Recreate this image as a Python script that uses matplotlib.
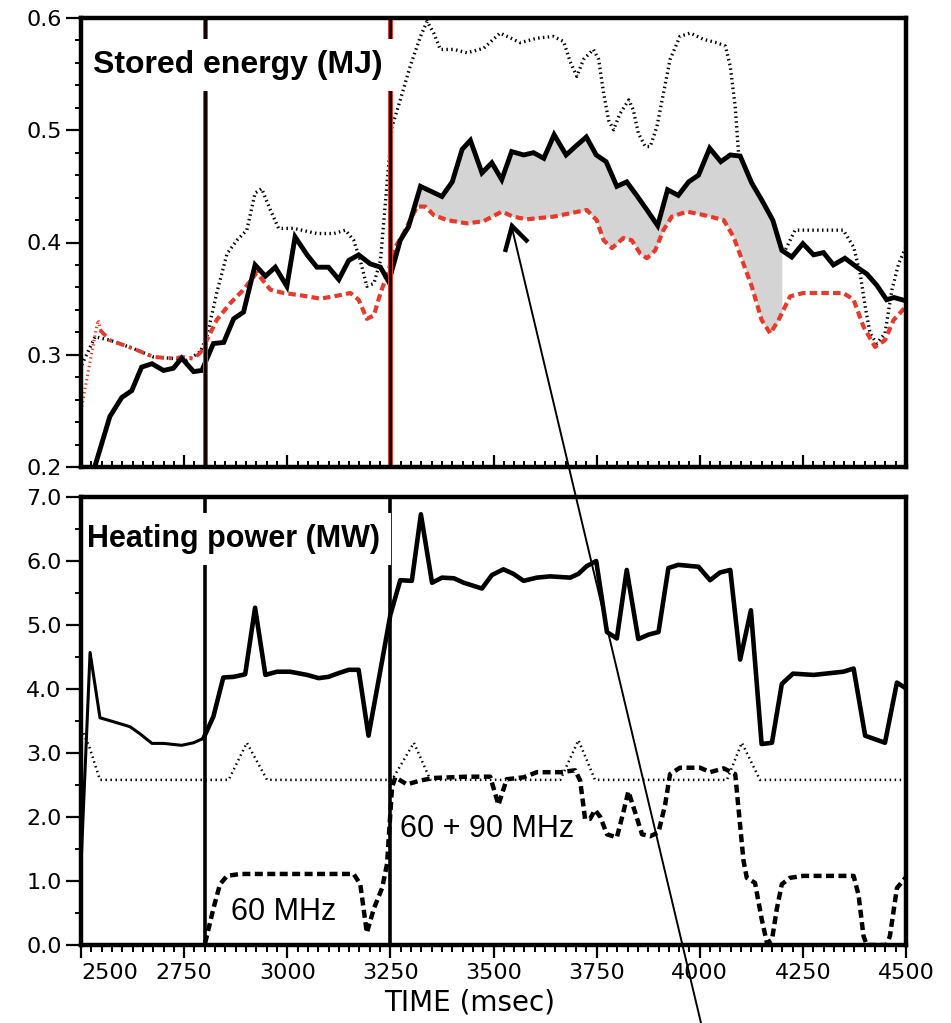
import numpy as np
import matplotlib
matplotlib.use("Agg")
import matplotlib.pyplot as plt
from matplotlib.lines import Line2D
from matplotlib.ticker import MultipleLocator, FormatStrFormatter

# ---------------- data: stored energy (MJ) ----------------
we_t = [2525, 2570, 2599, 2623, 2647, 2672, 2700, 2724, 2744, 2773, 2793, 2821, 2846, 2870, 2894,
        2922, 2947, 2971, 2999, 3019, 3048, 3072, 3100, 3125, 3149, 3173, 3201, 3226, 3246, 3274,
        3294, 3323, 3375, 3400, 3424, 3444, 3472, 3496, 3520, 3544, 3573, 3597, 3622, 3647, 3676,
        3700, 3725, 3749, 3773, 3799, 3823, 3847, 3872, 3898, 3922, 3948, 3973, 3997, 4024, 4051,
        4074, 4098, 4126, 4150, 4177, 4199, 4223, 4250, 4276, 4300, 4324, 4352, 4381, 4405, 4429,
        4453, 4471, 4500]
we = [0.19, 0.245, 0.262, 0.268, 0.289, 0.292, 0.286, 0.288, 0.297, 0.285, 0.286, 0.310, 0.311, 0.332, 0.338,
      0.380, 0.370, 0.378, 0.361, 0.405, 0.389, 0.378, 0.378, 0.367, 0.384, 0.389, 0.381, 0.378, 0.365, 0.402,
      0.414, 0.450, 0.441, 0.454, 0.483, 0.491, 0.462, 0.471, 0.456, 0.481, 0.478, 0.480, 0.475, 0.496, 0.478,
      0.486, 0.494, 0.478, 0.472, 0.450, 0.454, 0.442, 0.429, 0.415, 0.447, 0.442, 0.454, 0.460, 0.484, 0.472,
      0.478, 0.477, 0.453, 0.438, 0.420, 0.393, 0.387, 0.399, 0.389, 0.391, 0.380, 0.386, 0.378, 0.372, 0.362,
      0.349, 0.351, 0.348]

red_dot_t = [2500, 2520, 2541, 2548]
red_dot = [0.25, 0.29, 0.331, 0.322]

red_dd_t = [2546, 2570, 2627, 2676, 2724, 2745, 2773, 2790, 2801]
red_dd = [0.322, 0.313, 0.3055, 0.298, 0.2967, 0.298, 0.2965, 0.302, 0.310]

red_t = [2801, 2829, 2862, 2894, 2926, 2959, 2991, 3032, 3080, 3113, 3153, 3173, 3193, 3210, 3226,
         3242, 3262, 3282, 3298, 3315, 3335, 3355, 3387, 3436, 3476, 3520, 3548, 3581, 3645, 3726,
         3750, 3767, 3787, 3815, 3835, 3856, 3872, 3892, 3912, 3932, 3969, 4009, 4058, 4082, 4106,
         4126, 4150, 4171, 4191, 4219, 4251, 4300, 4348, 4373, 4397, 4425, 4449, 4470, 4500]
red = [0.310, 0.331, 0.346, 0.358, 0.373, 0.358, 0.355, 0.353, 0.350, 0.352, 0.355, 0.349, 0.332, 0.335, 0.355,
       0.371, 0.396, 0.408, 0.420, 0.432, 0.432, 0.4245, 0.420, 0.417, 0.419, 0.4275, 0.423, 0.4207, 0.423, 0.429,
       0.420, 0.402, 0.395, 0.404, 0.402, 0.390, 0.386, 0.393, 0.411, 0.423, 0.4275, 0.4245, 0.420, 0.405, 0.381,
       0.361, 0.331, 0.319, 0.331, 0.352, 0.355, 0.355, 0.355, 0.349, 0.325, 0.307, 0.313, 0.331, 0.343]

up_t = [2502, 2534, 2570, 2627, 2676, 2724, 2756, 2789, 2805, 2829, 2854, 2878, 2902, 2922, 2938,
        2959, 2979, 3015, 3072, 3113, 3141, 3161, 3177, 3193, 3210, 3226, 3242, 3254, 3274, 3298,
        3323, 3339, 3355, 3371, 3404, 3436, 3476, 3516, 3565, 3605, 3645, 3670, 3686, 3702, 3718,
        3742, 3755, 3767, 3779, 3791, 3807, 3828, 3839, 3851, 3868, 3880, 3896, 3912, 3928, 3952,
        3977, 4009, 4041, 4062, 4074, 4086, 4094, 4150, 4203, 4231, 4348, 4373, 4389, 4401, 4413,
        4429, 4449, 4466, 4482, 4500]
up = [0.291, 0.316, 0.313, 0.3055, 0.298, 0.2967, 0.295, 0.3025, 0.316, 0.355, 0.390, 0.402, 0.411, 0.444, 0.448,
      0.429, 0.4126, 0.4126, 0.408, 0.408, 0.411, 0.402, 0.384, 0.361, 0.3635, 0.384, 0.453, 0.503, 0.527, 0.557,
      0.5836, 0.597, 0.5866, 0.572, 0.572, 0.569, 0.573, 0.5866, 0.578, 0.582, 0.5836, 0.579, 0.561, 0.548, 0.563,
      0.572, 0.563, 0.533, 0.509, 0.5004, 0.515, 0.527, 0.518, 0.4974, 0.4855, 0.4855, 0.503, 0.533, 0.563, 0.5836,
      0.5866, 0.581, 0.578, 0.575, 0.557, 0.521, 0.4796, np.nan, 0.390, 0.411, 0.411, 0.396, 0.372, 0.343, 0.319,
      0.310, 0.319, 0.358, 0.381, 0.396]

# ---------------- data: heating power (MW) ----------------
pw1_t = [2501, 2522, 2546, 2578, 2619, 2643, 2672, 2700, 2744, 2773, 2797]
pw1 = [1.4, 4.57, 3.55, 3.49, 3.41, 3.30, 3.15, 3.15, 3.12, 3.16, 3.23]

pw2_t = [2797, 2821, 2845, 2870, 2898, 2922, 2947, 2975, 3007, 3048, 3076, 3100, 3121, 3149, 3173,
         3197, 3226, 3250, 3274, 3302, 3324, 3351, 3375, 3404, 3428, 3472, 3496, 3524, 3548, 3573,
         3605, 3637, 3686, 3706, 3726, 3749, 3775, 3799, 3823, 3851, 3876, 3900, 3924, 3948, 3997,
         4025, 4049, 4074, 4098, 4124, 4150, 4175, 4199, 4226, 4276, 4348, 4373, 4401, 4449, 4478,
         4500]
pw2 = [3.23, 3.57, 4.18, 4.19, 4.23, 5.27, 4.22, 4.27, 4.27, 4.22, 4.17, 4.19, 4.24, 4.30, 4.30,
       3.27, 4.30, 5.16, 5.70, 5.69, 6.73, 5.66, 5.74, 5.73, 5.66, 5.57, 5.78, 5.87, 5.80, 5.69,
       5.74, 5.76, 5.74, 5.80, 5.92, 6.00, 4.89, 4.79, 5.86, 4.78, 4.85, 4.89, 5.89, 5.94, 5.91,
       5.70, 5.82, 5.86, 4.46, 5.23, 3.14, 3.16, 4.08, 4.24, 4.22, 4.27, 4.32, 3.27, 3.16, 4.10,
       4.01]

nb_t = [2501, 2520, 2546, 2858, 2902, 2951, 3254, 3307, 3347, 3662, 3706, 3746, 4066, 4102, 4146, 4500]
nb = [3.38, 3.10, 2.58, 2.58, 3.16, 2.58, 2.58, 3.16, 2.58, 2.58, 3.20, 2.58, 2.58, 3.16, 2.58, 2.58]

rf_t = [2801, 2821, 2837, 2854, 2886, 3161, 3177, 3193, 3210, 3230, 3242, 3254, 3262, 3290, 3323,
        3355, 3396, 3436, 3492, 3512, 3532, 3573, 3605, 3662, 3698, 3710, 3722, 3734, 3746, 3759,
        3775, 3799, 3815, 3827, 3843, 3860, 3880, 3900, 3916, 3928, 3952, 4001, 4025, 4058, 4086,
        4098, 4106, 4114, 4134, 4150, 4163, 4175, 4187, 4199, 4219, 4251, 4373, 4385, 4397, 4405,
        4453, 4461, 4478, 4500]
rf = [0.03, 0.57, 0.95, 1.08, 1.11, 1.11, 0.95, 0.19, 0.57, 0.89, 1.27, 2.46, 2.62, 2.51, 2.57,
      2.61, 2.62, 2.63, 2.63, 2.19, 2.59, 2.62, 2.70, 2.70, 2.73, 2.57, 1.97, 1.97, 2.11, 2.00,
      1.73, 1.68, 2.08, 2.40, 2.08, 1.73, 1.70, 1.76, 2.19, 2.67, 2.77, 2.77, 2.70, 2.76, 2.67,
      1.86, 1.32, 1.05, 0.97, 0.41, 0.03, 0.08, 0.57, 0.95, 1.05, 1.08, 1.08, 0.78, 0.14, 0.0,
      0.0, 0.14, 0.89, 1.06]

event_times = [2800, 3250]
fill_range = (3300, 4199)
xticks = [2500, 2750, 3000, 3250, 3500, 3750, 4000, 4250, 4500]

RED = "#e8392b"
FIG_W, FIG_H = 951, 1023

fig = plt.figure(figsize=(FIG_W / 100, FIG_H / 100), dpi=100)
ax1 = fig.add_axes([81 / FIG_W, 1 - 467 / FIG_H, 825 / FIG_W, 449 / FIG_H])
ax2 = fig.add_axes([81 / FIG_W, 1 - 945 / FIG_H, 825 / FIG_W, 448 / FIG_H])

for ax in (ax1, ax2):
    ax.set_xlim(2500, 4500)
    for s in ax.spines.values():
        s.set_linewidth(3.2)
        s.set_zorder(9)
    ax.set_xticks(xticks)
    ax.xaxis.set_minor_locator(MultipleLocator(25))
    ax.tick_params(axis="y", which="major", direction="out", length=11, width=1.6, pad=3,
                   labelsize=16)
    ax.tick_params(axis="y", which="minor", direction="out", length=4, width=1.4)
    ax.tick_params(top=False, right=False)

# ---------------- top panel ----------------
ax1.set_ylim(0.2, 0.6)
ax1.yaxis.set_major_locator(MultipleLocator(0.1))
ax1.yaxis.set_minor_locator(MultipleLocator(0.02))
ax1.yaxis.set_major_formatter(FormatStrFormatter("%.1f"))
ax1.tick_params(axis="x", which="major", direction="in", length=9, width=1.6, labelbottom=False)
ax1.tick_params(axis="x", which="minor", direction="in", length=4.5, width=1.4)

grid = np.union1d(we_t, red_t)
grid = grid[(grid >= fill_range[0]) & (grid <= fill_range[1])]
grid = np.concatenate(([fill_range[0]], grid, [fill_range[1]]))
ax1.fill_between(grid, np.interp(grid, we_t, we), np.interp(grid, red_t, red),
                 color="#d4d4d4", lw=0, zorder=2)

ax1.plot(up_t, up, color="black", lw=2.4, ls=(0, (0.45, 1.0)), dash_capstyle="butt", zorder=1.5)
ax1.plot(red_dot_t, red_dot, color=RED, lw=2.2, ls=(0, (0.45, 1.0)), dash_capstyle="butt", zorder=2.5)
ax1.plot(red_dd_t, red_dd, color=RED, lw=2.8, ls=(0, (2.2, 1.2, 0.8, 1.2)), zorder=2.5)
ax1.plot(red_t, red, color=RED, lw=3.0, ls=(0, (1.8, 1.0)), zorder=2.5)
ax1.plot(we_t, we, color="black", lw=3.5, zorder=3, solid_joinstyle="miter")

for tv in event_times:
    ax1.axvline(tv, color=RED, lw=3.6, zorder=3.5)
    ax1.axvline(tv, color="black", lw=2.0, zorder=3.6)

ax1.text(2529, 0.558, "Stored energy (MJ)", family="Liberation Sans", weight="bold",
         fontsize=23, ha="left", va="center", zorder=6, clip_on=True,
         bbox=dict(facecolor="white", edgecolor="none", pad=8))

# ---------------- bottom panel ----------------
ax2.set_ylim(0, 7)
ax2.yaxis.set_major_locator(MultipleLocator(1.0))
ax2.yaxis.set_minor_locator(MultipleLocator(0.5))
ax2.yaxis.set_major_formatter(FormatStrFormatter("%.1f"))
ax2.tick_params(axis="x", which="major", direction="out", length=9, width=1.6, pad=4,
                labelsize=16)
ax2.tick_params(axis="x", which="minor", direction="out", length=5, width=1.4)
ax2.set_xticklabels([str(v) for v in xticks])
ax2.get_xticklabels()[0].set_horizontalalignment("left")

ax2.plot(nb_t, nb, color="black", lw=1.8, ls=(0, (0.6, 1.4)), dash_capstyle="butt", zorder=2)
ax2.plot(rf_t, rf, color="black", lw=3.2, ls=(0, (1.8, 1.0)), zorder=2.5)
ax2.plot(pw1_t, pw1, color="black", lw=2.2, zorder=3)
ax2.plot(pw2_t, pw2, color="black", lw=3.3, zorder=3)

for tv in event_times:
    ax2.axvline(tv, color="black", lw=2.6, zorder=3.5)

ax2.text(2515, 6.35, "Heating power (MW)", family="Liberation Sans", weight="bold",
         fontsize=22, ha="left", va="center", zorder=6, clip_on=True,
         bbox=dict(facecolor="white", edgecolor="none", pad=8))
ax2.text(2991, 0.52, "60 MHz", family="Liberation Sans", fontsize=22, ha="center",
         va="center", zorder=6)
ax2.text(3273, 1.82, "60 + 90 MHz", family="Liberation Sans", fontsize=22, ha="left",
         va="center", zorder=6)

for lab in ax1.get_yticklabels() + ax2.get_yticklabels() + ax2.get_xticklabels():
    lab.set_family("DejaVu Sans")

fig.text(470 / FIG_W, 1 - 1002 / FIG_H, "TIME (msec)", family="DejaVu Sans", fontsize=20,
         ha="center", va="center")

# ---------------- annotation arrow ----------------
def fp(x, y):
    return (x / FIG_W, 1 - y / FIG_H)

shaft = list(zip(fp(512, 228), fp(701, 1023)))
fig.add_artist(Line2D(shaft[0], shaft[1], transform=fig.transFigure, color="black",
                      lw=1.4, zorder=10))
hx, hy = zip(fp(505, 252), fp(512, 226), fp(528, 242))
fig.add_artist(Line2D(hx, hy, transform=fig.transFigure, color="black", lw=3.2,
                      solid_joinstyle="miter", solid_capstyle="butt", zorder=10))

fig.savefig("out.png", dpi=100)
